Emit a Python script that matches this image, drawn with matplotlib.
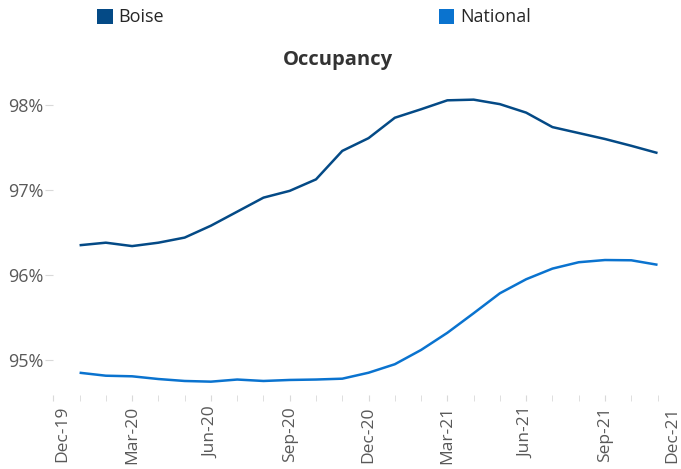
import matplotlib
matplotlib.use("Agg")
import matplotlib.pyplot as plt
from matplotlib.patches import Rectangle
import matplotlib.transforms as mtransforms

plt.rcParams["font.family"] = ["Open Sans", "DejaVu Sans"]

months = ["Jan-20", "Feb-20", "Mar-20", "Apr-20", "May-20", "Jun-20", "Jul-20",
          "Aug-20", "Sep-20", "Oct-20", "Nov-20", "Dec-20", "Jan-21", "Feb-21",
          "Mar-21", "Apr-21", "May-21", "Jun-21", "Jul-21", "Aug-21", "Sep-21",
          "Oct-21", "Nov-21"]
boise = [96.35, 96.38, 96.34, 96.38, 96.44, 96.58, 96.745, 96.91, 96.99, 97.125,
         97.46, 97.61, 97.85, 97.95, 98.055, 98.063, 98.01, 97.91, 97.74, 97.67,
         97.60, 97.52, 97.435]
national = [94.85, 94.815, 94.808, 94.776, 94.753, 94.745, 94.77, 94.753, 94.765,
            94.77, 94.78, 94.85, 94.95, 95.118, 95.32, 95.55, 95.785, 95.95,
            96.075, 96.15, 96.176, 96.173, 96.12]
tick_labels = ["Dec-19", "Mar-20", "Jun-20", "Sep-20", "Dec-20", "Mar-21",
               "Jun-21", "Sep-21", "Dec-21"]
y_ticks = [95, 96, 97, 98]

c_boise = "#044A86"
c_nat = "#0A73CF"
grey = "#595959"

fig = plt.figure(figsize=(6.81, 4.69), dpi=100)
W, H = 681, 469
ax = fig.add_axes([53.3 / W, 1 - 395 / H, (683.8 - 53.3) / W, (395 - 71) / H])

x = list(range(1, len(months) + 1))
ax.plot(x, boise, color=c_boise, lw=1.8, solid_capstyle="butt")
ax.plot(x, national, color=c_nat, lw=1.8, solid_capstyle="butt")

ax.set_xlim(0, 24)
ax.set_ylim(94.588, 98.4)
ax.set_xticks(range(0, 25, 3))
ax.set_xticklabels(tick_labels, rotation=90)
ax.set_xticks(range(0, 25), minor=True)
ax.set_yticks(y_ticks)
ax.set_yticklabels([f"{v}%" for v in y_ticks])

for s in ax.spines.values():
    s.set_visible(False)

ax.tick_params(axis="x", which="both", length=4, color="#D9D9D9",
               labelcolor=grey, labelsize=12.5, pad=4)
ax.tick_params(axis="y", length=6, color="#D9D9D9", labelcolor=grey,
               labelsize=13, pad=1)

labs = ax.get_xticklabels()
labs[0].set_transform(labs[0].get_transform() +
                      mtransforms.ScaledTranslation(8.5 / 100, 0, fig.dpi_scale_trans))
labs[-1].set_transform(labs[-1].get_transform() +
                       mtransforms.ScaledTranslation(-12 / 100, 0, fig.dpi_scale_trans))

fig.text(338 / W, 1 - 60 / H, "Occupancy", ha="center", va="center",
         fontsize=14.5, fontweight="bold", color="#333333")

# legend
for (x0, label, col) in [(97, "Boise", c_boise), (439, "National", c_nat)]:
    fig.add_artist(Rectangle((x0 / W, 1 - 24.5 / H), 15.5 / W, 15.5 / H,
                             transform=fig.transFigure, color=col, lw=0))
    fig.text((x0 + 21) / W, 1 - 17 / H, label, ha="left", va="center",
             fontsize=13, color="#262626")

fig.savefig("out.png", dpi=100)
